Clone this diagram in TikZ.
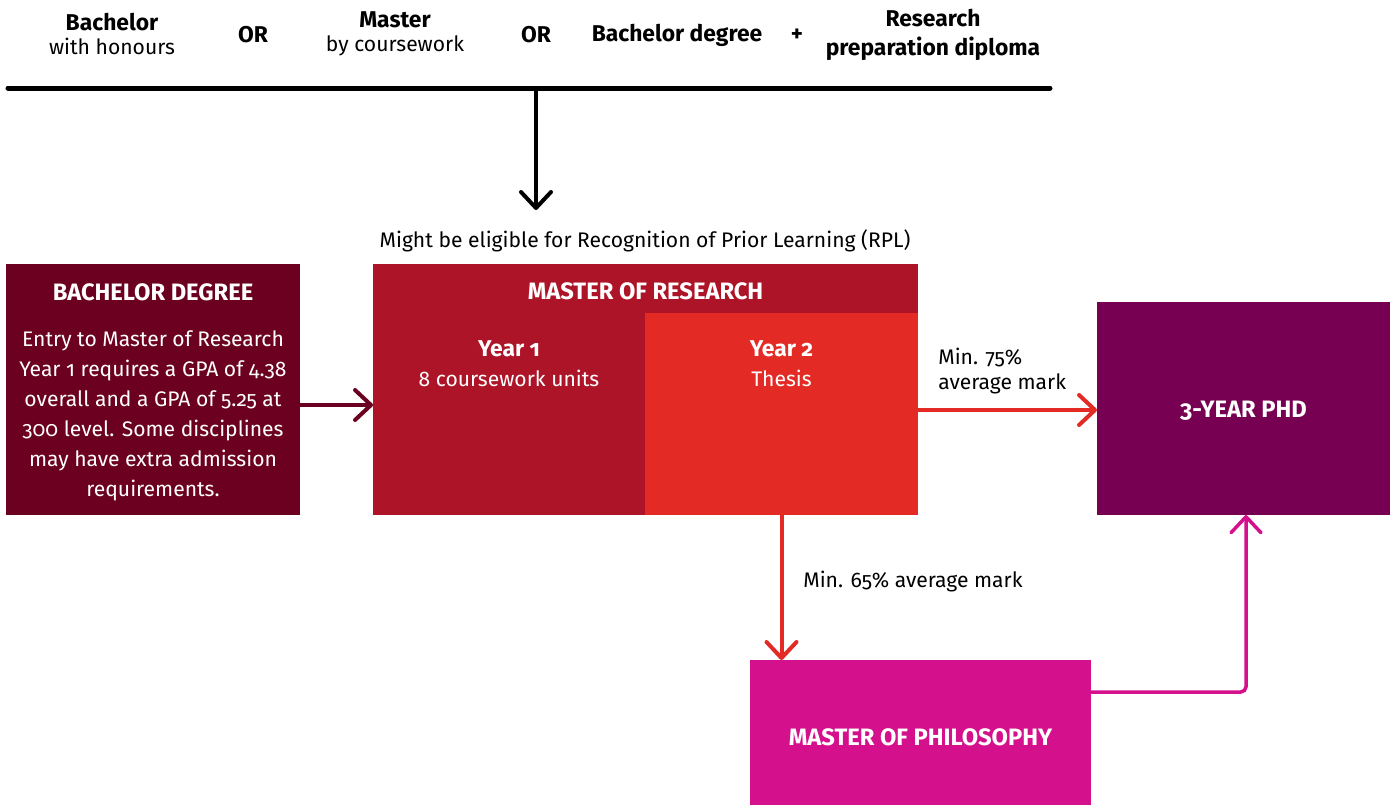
\documentclass[tikz,border=0pt]{standalone}
\usepackage{fontspec}
\setmainfont{Fira Sans}[Numbers=OldStyle]
\usetikzlibrary{arrows.meta,positioning}

\definecolor{bachred}{HTML}{6B0020}
\definecolor{mresred}{HTML}{AE1428}
\definecolor{yrtwored}{HTML}{E32A25}
\definecolor{phdpurple}{HTML}{780052}
\definecolor{mphilpink}{HTML}{D4108C}

\newcommand\hd[1]{{\bfseries\fontsize{13}{14}\selectfont #1}}

\begin{document}
\begin{tikzpicture}[
  x=0.02cm, y=-0.02cm,
  bx/.style={inner sep=0pt, outer sep=0pt},
  ttl/.style={inner sep=0pt, text=white, font=\bfseries\fontsize{13.5}{15}\selectfont},
  txt/.style={inner sep=0pt, align=center, font=\fontsize{12}{17}\selectfont},
  top/.style={inner sep=0pt, align=center, font=\fontsize{12}{14}\selectfont},
  ar/.style={-{Straight Barb[length=3.2mm,width=6mm,round]},
             line width=0.08cm, line cap=round},
]
  \useasboundingbox (0,0) rectangle (1394,805);

  % entry routes
  \node[top] (hons) at (112,34) {\hd{Bachelor}\\with honours};
  \node[top] (or1)  at (253,35) {\hd{OR}};
  \node[top] (mcw)  at (395,34) {\hd{Master}\\by coursework};
  \node[top] (or2)  at (536,35) {\hd{OR}};
  \node[top] (bdeg) at (677,35) {\hd{Bachelor degree}};
  \node[top] (plus) at (797,35) {\hd{+}};
  \node[top, font=\fontsize{12}{16.5}\selectfont] (rpd) at (933,35) {\hd{Research}\\\hd{preparation diploma}};

  \coordinate (barL) at (8,88);
  \coordinate (barR) at (1050,88);
  \coordinate (barM) at (536,88);
  \coordinate (arrend) at (536,210);
  \draw[line width=0.1cm, line cap=round] (barL) -- (barR);
  \draw[ar] (barM) -- (arrend);

  \node[top] (rpl) at (645,241) {Might be eligible for Recognition of Prior Learning (RPL)};

  % boxes
  \node[bx, fill=bachred, minimum width=5.88cm, minimum height=5.02cm] (bach) at (153,389.5) {};
  \node[ttl] (bachttl) at (153,292) {BACHELOR DEGREE};
  \node[txt, text=white] (bachtxt) at (153,416) {Entry to Master of Research\\Year 1 requires a GPA of 4.38\\overall and a GPA of 5.25 at\\300 level. Some disciplines\\may have extra admission\\requirements.};

  \node[bx, fill=mresred, minimum width=10.9cm, minimum height=0.98cm] (mres) at (645.5,288.5) {};
  \node[ttl] (mresttl) at (645.5,291) {MASTER OF RESEARCH};
  \node[bx, fill=mresred, minimum width=5.44cm, minimum height=4.04cm] (yr1) at (509,414) {};
  \node[bx, fill=yrtwored, minimum width=5.46cm, minimum height=4.04cm] (yr2) at (781.5,414) {};
  \node[txt, text=white] (yr1txt) at (509,364) {\hd{Year 1}\\8 coursework units};
  \node[txt, text=white] (yr2txt) at (781.5,364) {\hd{Year 2}\\Thesis};

  \node[bx, fill=phdpurple, minimum width=5.86cm, minimum height=4.26cm] (phd) at (1243.5,408.5) {};
  \node[ttl] (phdttl) at (1243.5,411) {3-YEAR PHD};
  \node[bx, fill=mphilpink, minimum width=6.82cm, minimum height=2.9cm] (mphil) at (920.5,732.5) {};
  \node[ttl] (mphilttl) at (920.5,737) {MASTER OF PHILOSOPHY};

  % labels
  \node[top, align=left, anchor=west] (min75) at (938,371) {Min. 75\%\\average mark};
  \node[top, anchor=west] (min65) at (803,582) {Min. 65\% average mark};

  % connectors
  \draw[ar, bachred] (bach.east |- 0,405) -- (yr1.west |- 0,405);
  \draw[ar, yrtwored] (yr2.east |- 0,410) -- (phd.west |- 0,410);
  \draw[ar, yrtwored] (yr2.south) -- (yr2.south |- mphil.north);
  \draw[ar, mphilpink, line width=0.07cm, rounded corners=3] (mphil.east |- 0,692) -| (1246,0 |- phd.south);
\end{tikzpicture}
\end{document}
